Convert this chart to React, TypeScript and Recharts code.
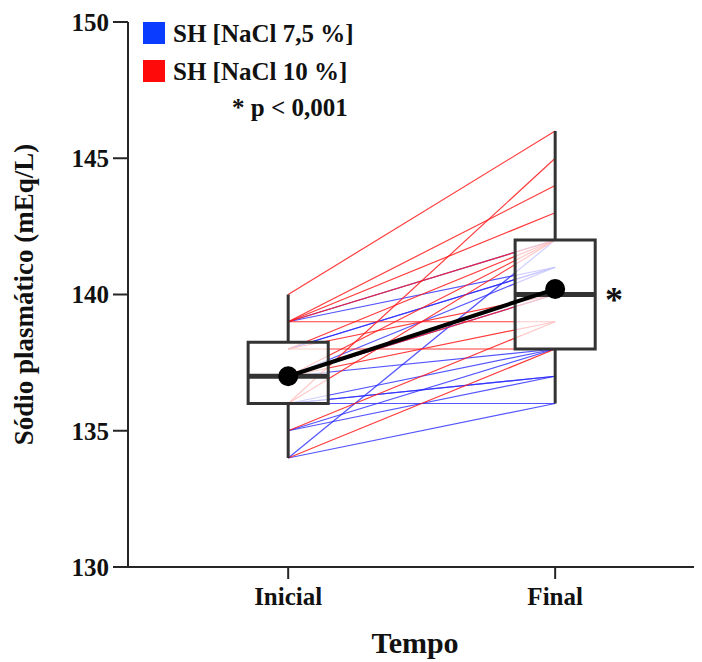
import React from 'react';
import {
  ComposedChart,
  Line,
  XAxis,
  YAxis,
  ReferenceArea,
  ReferenceDot,
} from 'recharts';

// time points (x = 0 / 1 on a numeric axis)
const categories = ['Inicial', 'Final'];
const yTicks = [130, 135, 140, 145, 150];

// SH [NaCl 7,5 %] — each index is one subject
const blueInitial = [134, 134, 135, 135, 136, 136, 136, 136, 137, 137, 137, 138, 138, 139, 139];
const blueFinal = [142, 136, 137, 138, 136, 137, 137, 138, 138, 141, 140, 141, 141, 142, 141];

// SH [NaCl 10 %]
const redInitial = [140, 136, 139, 139, 139, 139, 138, 138, 138, 137, 137, 137, 136, 135, 134];
const redFinal = [146, 145, 144, 143, 139, 142, 138, 142, 140, 142, 140, 139, 142, 139, 138];

// box plot stats: [Inicial, Final]
const boxMin = [134, 136];
const boxQ1 = [136, 138];
const boxMedian = [137, 140];
const boxQ3 = [138.25, 142];
const boxMax = [140, 146];
const means = [137.0, 140.2];

const FONT = '"Liberation Serif", "Times New Roman", serif';
const AXIS = '#262626';
const HALF = 0.15;

const pairData = (a: number, b: number) => [
  { x: 0, y: a },
  { x: 1, y: b },
];

function LegendBox() {
  const row = (color: string, text: string) => (
    <div style={{ display: 'flex', alignItems: 'center', height: 38 }}>
      <span style={{ width: 22, height: 22, background: color, display: 'inline-block', marginRight: 8 }} />
      <span>{text}</span>
    </div>
  );
  return (
    <div
      style={{
        position: 'absolute',
        left: 135,
        top: 6,
        fontFamily: FONT,
        fontWeight: 700,
        fontSize: 25,
        color: '#111',
        lineHeight: 1,
        whiteSpace: 'nowrap',
      }}
    >
      {row('#0a3cff', 'SH [NaCl 7,5 %]')}
      {row('#ff0a0a', 'SH [NaCl 10 %]')}
      <div style={{ marginLeft: 89, marginTop: 5 }}>* p &lt; 0,001</div>
    </div>
  );
}

export default function App() {
  return (
    <div style={{ position: 'relative', width: 694, height: 654 }}>
      <ComposedChart width={694} height={654} margin={{ top: 14, right: 0, bottom: 0, left: 0 }}>
        <XAxis
          dataKey="x"
          type="number"
          domain={[-0.6, 1.55]}
          ticks={[0, 1]}
          tickFormatter={(v: number) => categories[v]}
          height={95}
          tickSize={12}
          tickMargin={8}
          stroke={AXIS}
          strokeWidth={2}
          tick={{ fontFamily: FONT, fontWeight: 700, fontSize: 25, fill: '#111' }}
          label={{
            value: 'Tempo',
            position: 'insideBottom',
            offset: 9,
            style: { fontFamily: FONT, fontWeight: 700, fontSize: 30, fill: '#111' },
          }}
        />
        <YAxis
          type="number"
          domain={[130, 150]}
          ticks={yTicks}
          width={120}
          tickSize={15}
          tickMargin={4}
          stroke={AXIS}
          strokeWidth={2}
          tick={{ fontFamily: FONT, fontWeight: 700, fontSize: 25, fill: '#111' }}
          label={{
            value: 'Sódio plasmático (mEq/L)',
            angle: -90,
            position: 'insideLeft',
            offset: 15,
            style: { fontFamily: FONT, fontWeight: 700, fontSize: 27, fill: '#111', textAnchor: 'middle' },
          }}
        />

        {blueInitial.map((v, i) => (
          <Line
            key={'b' + i}
            data={pairData(v, blueFinal[i])}
            dataKey="y"
            stroke="#2b2bff"
            strokeOpacity={0.8}
            strokeWidth={1.2}
            dot={false}
            legendType="none"
            isAnimationActive={false}
            zIndex={400}
          />
        ))}
        {redInitial.map((v, i) => (
          <Line
            key={'r' + i}
            data={pairData(v, redFinal[i])}
            dataKey="y"
            stroke="#ff1a1a"
            strokeOpacity={0.85}
            strokeWidth={1.2}
            dot={false}
            legendType="none"
            isAnimationActive={false}
            zIndex={400}
          />
        ))}

        {/* whiskers */}
        {[0, 1].map((t) => (
          <Line
            key={'wu' + t}
            data={[
              { x: t, y: boxMax[t] },
              { x: t, y: boxQ3[t] },
            ]}
            dataKey="y"
            stroke="#333"
            strokeWidth={3}
            dot={false}
            legendType="none"
            isAnimationActive={false}
            zIndex={450}
          />
        ))}
        {[0, 1].map((t) => (
          <Line
            key={'wl' + t}
            data={[
              { x: t, y: boxQ1[t] },
              { x: t, y: boxMin[t] },
            ]}
            dataKey="y"
            stroke="#333"
            strokeWidth={3}
            dot={false}
            legendType="none"
            isAnimationActive={false}
            zIndex={450}
          />
        ))}

        {/* boxes */}
        {[0, 1].map((t) => (
          <ReferenceArea
            key={'box' + t}
            x1={t - HALF}
            x2={t + HALF}
            y1={boxQ1[t]}
            y2={boxQ3[t]}
            fill="#fff"
            fillOpacity={0.72}
            stroke="#333"
            strokeWidth={3}
            strokeOpacity={1}
            zIndex={500}
          />
        ))}
        {[0, 1].map((t) => (
          <Line
            key={'med' + t}
            data={[
              { x: t - HALF, y: boxMedian[t] },
              { x: t + HALF, y: boxMedian[t] },
            ]}
            dataKey="y"
            stroke="#333"
            strokeWidth={5}
            dot={false}
            legendType="none"
            isAnimationActive={false}
            zIndex={550}
          />
        ))}

        {/* mean trajectory */}
        <Line
          data={pairData(means[0], means[1])}
          dataKey="y"
          stroke="#000"
          strokeWidth={4}
          dot={{ r: 8, fill: '#000', stroke: '#000' }}
          legendType="none"
          isAnimationActive={false}
          zIndex={600}
        />
        <ReferenceDot
          x={1.22}
          y={means[1]}
          r={0}
          fill="none"
          stroke="none"
          zIndex={600}
          label={{
            value: '*',
            position: 'center',
            style: { fontFamily: FONT, fontWeight: 700, fontSize: 36, fill: '#111' },
            dy: 10,
          }}
        />
      </ComposedChart>
      <LegendBox />
    </div>
  );
}
